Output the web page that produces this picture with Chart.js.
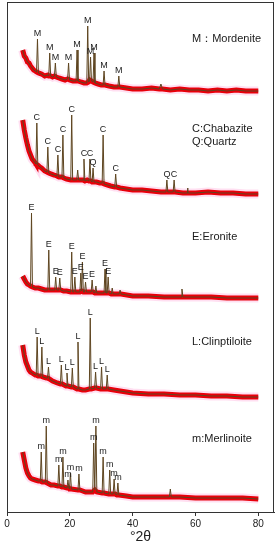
<!DOCTYPE html>
<html>
<head>
<meta charset="utf-8">
<script src="https://cdn.jsdelivr.net/npm/chart.js@4.4.1/dist/chart.umd.min.js"></script>
<style>
  html, body { margin: 0; padding: 0; background: #fff; }
  #wrap { width: 279px; height: 550px; position: relative; }
</style>
</head>
<body>
<div id="wrap"><canvas id="xrd"></canvas></div>
<script>
// [2theta, stacked intensity], top pattern first
const mordenite = [[5,462],[5.5,456],[6,454],[6.5,450],[7,449],[7.5,446],[8,444],[8.5,442],[9,441],[9.4,440],[9.7,473],[10,439],[11,438],[12,436],[13,437],[13.3,436],[13.6,459],[13.9,436],[14.5,435],[15.1,436],[15.4,449],[15.7,435],[16.5,434],[17.5,433],[18.5,432],[19.3,433],[19.6,449],[19.9,432],[21,431],[22,431],[22.3,462],[22.6,431],[23.5,430],[24.5,429],[25.4,429],[25.7,486],[26.0,430],[26.3,432],[26.6,455],[26.9,431],[27.4,430],[27.7,459],[28.0,429],[29,428],[30,427],[30.6,427],[30.9,441],[31.2,427],[32.5,426],[34,425],[35.3,425],[35.6,436],[35.9,425],[38,424],[40,423],[43,423],[46,424],[48.5,423],[49,428],[49.5,423],[52,422],[55,423],[58,422],[61,422],[64,421],[67,422],[70,421],[73,422],[76,421],[80,421]];
const chabazite = [[5,392],[5.5,382],[6,374],[6.5,367],[7,361],[7.5,357],[8,353],[8.5,351],[9,349],[9.2,348],[9.5,389],[9.8,347],[10.5,345],[11,344],[12,341],[12.7,340],[13,365],[13.3,339],[14,338],[15,337],[15.9,336],[16.2,357],[16.5,335],[17.5,335],[17.8,377],[18.1,334],[19,333],[20.3,332],[20.6,397],[20.9,332],[22.2,332],[22.5,342],[22.8,332],[24.2,332],[24.5,353],[24.8,331],[25.5,332],[26.1,331],[26.4,353],[26.7,331],[27.1,330],[27.4,344],[27.7,330],[28.5,330],[29.5,329],[30.3,329],[30.6,377],[30.9,328],[32,327],[33,326],[34.3,325],[34.6,338],[34.9,325],[36,324],[38,323],[40,322],[43,322],[46,321],[49,320],[50.6,320],[50.9,332],[51.2,320],[52.9,320],[53.2,332],[53.5,320],[56,319],[57.4,319],[57.5,324],[57.6,319],[60,319],[64,320],[68,319],[72,319],[76,318],[80,318]];
const eronite = [[5,236],[5.5,233],[6,230],[6.5,228],[7,227],[7.5,226],[7.8,299],[8.1,225],[9,224],[10,224],[11,223],[12,222],[13,222],[13.3,262],[13.6,222],[14.5,222],[15.2,222],[15.5,235],[15.8,222],[16.5,222],[16.8,234],[17.1,222],[18,221],[19,221],[20.3,220],[20.6,260],[20.9,220],[21.3,220],[21.6,235],[21.9,220],[23.2,220],[23.5,239],[23.75,221],[24.0,250],[24.3,220],[24.7,220],[25.0,230],[25.3,220],[26.8,220],[27.1,232],[27.4,220],[28.0,219],[28.3,226],[28.6,219],[30,219],[30.9,219],[31.2,243],[31.5,219],[31.9,219],[32.2,235],[32.5,219],[33.2,218],[33.5,224],[33.8,218],[35.7,218],[36,222],[36.3,218],[40,216],[45,216],[50,215],[55.4,215],[55.7,223],[56,215],[60,215],[65,215],[70,214],[75,214],[80,214]];
const clinoptilolite = [[5,167],[5.5,157],[6,150],[6.5,146],[7,142],[7.5,140],[8,139],[9,137],[9.3,137],[9.6,175],[9.9,136],[10.8,136],[11.1,165],[11.4,135],[12.5,134],[12.9,134],[13.2,145],[13.5,133],[14.5,131],[16,129],[17,128],[17.3,147],[17.6,128],[18.8,126],[19.1,139],[19.4,126],[20.5,125],[20.8,144],[21.1,125],[22.3,123],[22.6,170],[22.9,123],[24,122],[25,122],[26.2,123],[26.5,194],[26.8,123],[27.9,124],[28.2,140],[28.5,124],[29.8,123],[30.1,145],[30.4,123],[31.6,123],[31.9,137],[32.2,123],[34,122],[36,121],[38,120],[40,119],[45,118],[50,118],[55,117],[60,117],[65,116],[70,116],[75,115],[80,115]];
const merlinoite = [[5,60],[5.5,52],[6,44],[6.5,39],[7,36],[7.5,34],[8,33],[9,32],[10,31],[10.6,31],[10.9,60],[11.2,30],[12.2,30],[12.5,86],[12.8,29],[14,27],[15,27],[16.2,26],[16.5,47],[16.8,26],[17.5,25],[17.8,55],[18.1,25],[19.1,24],[19.4,32],[19.7,24],[19.9,23],[20.2,39],[20.5,23],[22.6,22],[22.9,38],[23.2,22],[25,20],[27,20],[27.3,20],[27.6,69],[27.95,22],[28.3,86],[28.6,20],[30.3,19],[30.6,55],[30.9,19],[32.4,18],[32.7,42],[33.0,18],[33.8,18],[34.1,33],[34.4,18],[35,17],[35.3,29],[35.6,17],[38,16],[40,15],[45,15],[50,15],[51.7,15],[52,23],[52.3,15],[55,15],[60,14],[65,14],[70,14],[75,14],[80,13]];

// labelled reflections: [2theta, phase letter]
const mordLabels = [[9.7,'M'],[13.6,'M'],[15.4,'M'],[19.6,'M'],[22.3,'M'],[25.7,'M'],[26.6,'M'],[27.7,'M'],[30.9,'M'],[35.6,'M']];
const chabLabels = [[9.5,'C'],[13,'C'],[16.2,'C'],[17.8,'C'],[20.6,'C'],[24.5,'C'],[26.4,'C'],[27.4,'Q'],[30.6,'C'],[34.6,'C'],[50.9,'Q'],[53.2,'C']];
const eronLabels = [[7.8,'E'],[13.3,'E'],[15.5,'E'],[16.8,'E'],[20.6,'E'],[21.6,'E'],[23.5,'E'],[24.0,'E'],[25.0,'E'],[27.1,'E'],[31.2,'E'],[32.2,'E']];
const clinLabels = [[9.6,'L'],[11.1,'L'],[13.2,'L'],[17.3,'L'],[19.1,'L'],[20.8,'L'],[22.6,'L'],[26.5,'L'],[28.2,'L'],[30.1,'L'],[31.9,'L']];
const merlLabels = [[10.9,'m'],[12.5,'m'],[16.5,'m'],[17.8,'m'],[19.4,'m'],[20.2,'m'],[22.9,'m'],[27.6,'m'],[28.3,'m'],[30.6,'m'],[32.7,'m'],[34.1,'m'],[35.3,'m']];

const phaseNames = ['M：Mordenite', 'C:Chabazite', 'Q:Quartz', 'E:Eronite', 'L:Clinptiloite', 'm:Merlinoite'];
const xTicks = [0, 20, 40, 60, 80];

const patterns = [mordenite, chabazite, eronite, clinoptilolite, merlinoite];
const labelSets = [mordLabels, chabLabels, eronLabels, clinLabels, merlLabels];

const toXY = arr => arr.map(p => ({ x: p[0], y: p[1] }));
// red band skips the sharp peak tips so the spikes stay thin
const noTips = arr => arr.filter((p, i) => {
  const a = arr[i - 1], b = arr[i + 1];
  return !(a && b && p[1] > a[1] + 3 && p[1] > b[1] + 3);
});

const datasets = [];
patterns.forEach(arr => {
  datasets.push({ data: toXY(arr), order: 0, borderColor: '#5e4520', borderWidth: 1, pointRadius: 0 });
  datasets.push({ data: toXY(noTips(arr)), order: 1, borderColor: '#e8000a', borderWidth: 5, pointRadius: 0 });
  datasets.push({ data: toXY(noTips(arr)), order: 2, borderColor: 'rgba(255,150,210,0.3)', borderWidth: 9, pointRadius: 0 });
});

const framePlugin = {
  id: 'frame',
  afterDraw(chart) {
    const { ctx, chartArea: a } = chart;
    ctx.save();
    ctx.strokeStyle = '#333';
    ctx.lineWidth = 1;
    ctx.strokeRect(a.left + 0.5, a.top + 0.5, a.right - a.left - 1, a.bottom - a.top);
    ctx.restore();
  }
};

const peakLabelPlugin = {
  id: 'peakLabels',
  afterDatasetsDraw(chart) {
    const { ctx, scales: { x, y } } = chart;
    ctx.save();
    ctx.fillStyle = '#1a1a1a';
    ctx.font = '9px "Liberation Sans", Arial, sans-serif';
    ctx.textAlign = 'center';
    ctx.textBaseline = 'bottom';
    labelSets.forEach((set, k) => {
      set.forEach(([t, txt]) => {
        const pt = patterns[k].find(p => Math.abs(p[0] - t) < 0.05);
        if (!pt) return;
        ctx.fillText(txt, x.getPixelForValue(t), y.getPixelForValue(pt[1]) - 1);
      });
    });
    // phase legend
    ctx.font = '11px "Liberation Sans", Arial, sans-serif';
    ctx.textAlign = 'left';
    ctx.textBaseline = 'middle';
    const ys = [39, 129, 142, 237, 342, 439];
    phaseNames.forEach((s, i) => ctx.fillText(s, 192, ys[i]));
    ctx.restore();
  }
};

new Chart(document.getElementById('xrd'), {
  type: 'line',
  data: { datasets },
  options: {
    responsive: true,
    maintainAspectRatio: false,
    animation: false,
    layout: { padding: { left: 7, top: 2, right: 5, bottom: 0 } },
    plugins: { legend: { display: false }, tooltip: { enabled: false } },
    scales: {
      x: {
        type: 'linear', min: 0, max: 85,
        afterBuildTicks: s => { s.ticks = xTicks.map(v => ({ value: v })); },
        afterFit: s => { s.height = 38; },
        grid: { drawOnChartArea: false, drawTicks: true, tickLength: 4, color: '#333' },
        border: { display: true, color: '#333' },
        ticks: { color: '#222', padding: 2, font: { size: 10, family: 'Liberation Sans' } },
        title: { display: true, text: '°2θ', color: '#222', padding: { top: 0, bottom: 4 }, font: { size: 14, family: 'Liberation Sans' } }
      },
      y: { display: false, min: 0, max: 510 }
    }
  },
  plugins: [framePlugin, peakLabelPlugin]
});
</script>
</body>
</html>
